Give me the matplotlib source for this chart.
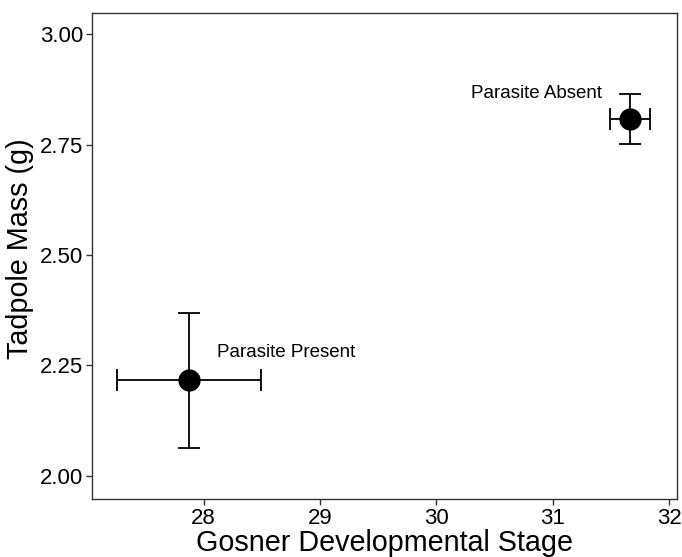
import matplotlib
matplotlib.use("Agg")
import matplotlib.pyplot as plt

plt.rcParams['font.family'] = ['Liberation Sans', 'DejaVu Sans']

groups = ["Parasite Present", "Parasite Absent"]
stage = [27.876, 31.667]
stage_err = [0.615, 0.172]
mass = [2.216, 2.808]
mass_err = [0.153, 0.056]
label_x = [28.116, 30.296]
label_y = [2.280, 2.865]
yticks = [2.00, 2.25, 2.50, 2.75, 3.00]
xticks = [28, 29, 30, 31, 32]

fig = plt.figure(figsize=(6.82, 5.57), dpi=100)
ax = fig.add_axes([0.1345, 0.1036, 0.8577, 0.8725])

ax.errorbar(stage, mass, xerr=stage_err, yerr=mass_err, fmt='o', color='black',
            markersize=15, elinewidth=1.3, capsize=8, capthick=1.3, zorder=3)

for g, lx, ly in zip(groups, label_x, label_y):
    ax.text(lx, ly, g, fontsize=13.5, ha='left', va='center', color='black')

ax.set_xlim(27.04, 32.064)
ax.set_ylim(1.9465, 3.0476)
ax.set_xticks(xticks)
ax.set_xticklabels([str(t) for t in xticks])
ax.set_yticks(yticks)
ax.set_yticklabels([f"{t:.2f}" for t in yticks])

for s in ax.spines.values():
    s.set_color('#333333')
    s.set_linewidth(1.0)
ax.tick_params(axis='both', direction='out', length=4, width=1, color='#333333',
               labelsize=16, labelcolor='black', pad=2)

ax.set_xlabel("Gosner Developmental Stage", fontsize=20.7, labelpad=0)
ax.set_ylabel("Tadpole Mass (g)", fontsize=20.7)
ax.yaxis.set_label_coords(-0.0986, 0.515)

fig.savefig("out.png", dpi=100)
